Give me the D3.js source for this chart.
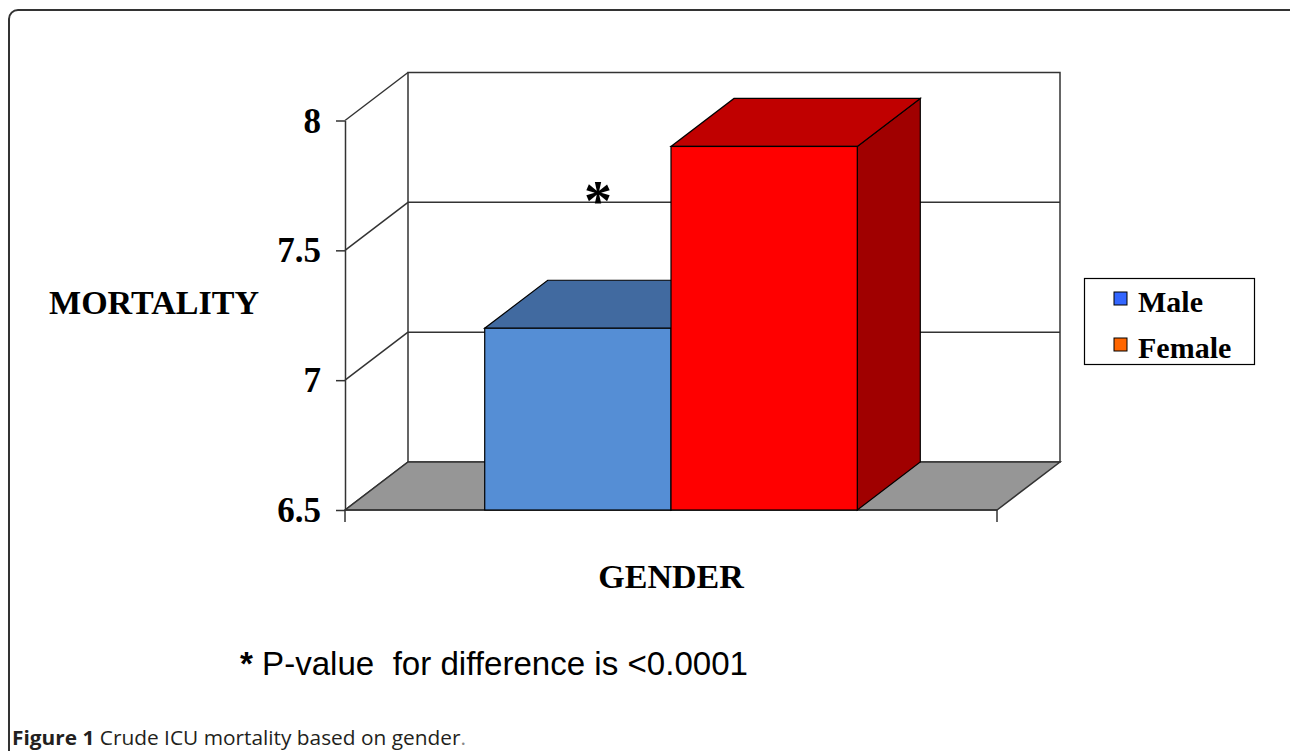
<!DOCTYPE html>
<html lang="en">
<head>
<meta charset="utf-8">
<title>Crude ICU mortality based on gender</title>
<script src="https://cdn.jsdelivr.net/npm/d3@7"></script>
<style>
  body { margin: 0; background: #fff; }
  svg { display: block; }
</style>
</head>
<body>
<script>
// data
var series = ["Male", "Female"];
var mortality = [7.2, 7.9];
var yTicks = [6.5, 7, 7.5, 8];
var yTickLabels = ["6.5", "7", "7.5", "8"];
var yTitle = "MORTALITY";
var xTitle = "GENDER";
var footnote = "P-value  for difference is <0.0001";
var captionBold = "Figure 1";
var captionText = " Crude ICU mortality based on gender";

var W = 1290, H = 751;
var svg = d3.select("body").append("svg")
  .attr("width", W)
  .attr("height", H);

// frame around figure
svg.append("rect")
  .attr("x", 9).attr("y", 10)
  .attr("width", 1300).attr("height", 780)
  .attr("rx", 9)
  .attr("fill", "none")
  .attr("stroke", "#333")
  .attr("stroke-width", 2);

// front plane + depth offset for the fake 3d
var x0 = 345, x1 = 997;
var dx = 63, dy = -48;

var y = d3.scaleLinear().domain([6.5, 8]).range([510, 120.5]);
var x = d3.scaleBand().domain(series).range([x0, x1])
  .paddingInner(0).paddingOuter(0.75);

var front = d3.scaleOrdinal().domain(series).range(["#558ED5", "#FF0000"]);
var top_ = d3.scaleOrdinal().domain(series).range(["#416AA0", "#C00000"]);
var side = d3.scaleOrdinal().domain(series).range(["#30507a", "#A00000"]);
var swatch = d3.scaleOrdinal().domain(series).range(["#3366FF", "#FF6600"]);

var lineCol = "#333";
var serif = "'Liberation Serif', 'Times New Roman', serif";

var yMin = y.domain()[0], yMax = y.domain()[1];

// back wall
var g = svg.append("g");
g.append("rect")
  .attr("x", x0 + dx).attr("y", y(yMax) + dy)
  .attr("width", x1 - x0).attr("height", y(yMin) - y(yMax))
  .attr("fill", "#fff")
  .attr("stroke", lineCol).attr("stroke-width", 1.5);

// gridlines on back wall and side wall
g.selectAll("line.grid")
  .data(yTicks.filter(function(d){ return d > yMin && d < yMax; }))
  .enter().append("line")
  .attr("class", "grid")
  .attr("x1", x0 + dx).attr("x2", x1 + dx)
  .attr("y1", function(d){ return y(d) + dy; })
  .attr("y2", function(d){ return y(d) + dy; })
  .attr("stroke", lineCol).attr("stroke-width", 1.5);

g.selectAll("line.side")
  .data(yTicks)
  .enter().append("line")
  .attr("class", "side")
  .attr("x1", x0).attr("x2", x0 + dx)
  .attr("y1", function(d){ return y(d); })
  .attr("y2", function(d){ return y(d) + dy; })
  .attr("stroke", lineCol).attr("stroke-width", 1.5);

// floor
g.append("polygon")
  .attr("points", [[x0, y(yMin)], [x1, y(yMin)], [x1 + dx, y(yMin) + dy], [x0 + dx, y(yMin) + dy]].join(" "))
  .attr("fill", "#969696")
  .attr("stroke", lineCol).attr("stroke-width", 1.5);

// y axis on the front edge
var yAxis = d3.axisLeft(y)
  .tickValues(yTicks)
  .tickFormat(function(d, i){ return yTickLabels[i]; })
  .tickSize(9)
  .tickSizeOuter(0)
  .tickPadding(15);

var ax = svg.append("g")
  .attr("transform", "translate(" + x0 + ",0)")
  .call(yAxis);
ax.selectAll("path, line").attr("stroke", lineCol).attr("stroke-width", 1.5);
ax.selectAll("text")
  .attr("font-family", serif)
  .attr("font-weight", "bold")
  .attr("font-size", 35)
  .attr("fill", "#000")
  .attr("dy", "0.33em");

// x axis: front floor edge with ticks at the category bounds
svg.append("line")
  .attr("x1", x0).attr("x2", x1)
  .attr("y1", y(yMin)).attr("y2", y(yMin))
  .attr("stroke", lineCol).attr("stroke-width", 1.5);
svg.selectAll("line.xt")
  .data(x.range())
  .enter().append("line")
  .attr("class", "xt")
  .attr("x1", function(d){ return d; }).attr("x2", function(d){ return d; })
  .attr("y1", y(yMin)).attr("y2", y(yMin) + 12)
  .attr("stroke", lineCol).attr("stroke-width", 1.5);

// bars
var bars = svg.selectAll("g.bar")
  .data(series)
  .enter().append("g")
  .attr("class", "bar");

bars.append("polygon")
  .attr("points", function(d, i){
    var a = x(d) + x.bandwidth(), t = y(mortality[i]);
    return [[a, t], [a + dx, t + dy], [a + dx, y(yMin) + dy], [a, y(yMin)]].join(" ");
  })
  .attr("fill", function(d){ return side(d); })
  .attr("stroke", "#000").attr("stroke-width", 1.2);

bars.append("polygon")
  .attr("points", function(d, i){
    var a = x(d), b = x(d) + x.bandwidth(), t = y(mortality[i]);
    return [[a, t], [b, t], [b + dx, t + dy], [a + dx, t + dy]].join(" ");
  })
  .attr("fill", function(d){ return top_(d); })
  .attr("stroke", "#000").attr("stroke-width", 1.2);

bars.append("rect")
  .attr("x", function(d){ return x(d); })
  .attr("y", function(d, i){ return y(mortality[i]); })
  .attr("width", x.bandwidth())
  .attr("height", function(d, i){ return y(yMin) - y(mortality[i]); })
  .attr("fill", function(d){ return front(d); })
  .attr("stroke", "#000").attr("stroke-width", 1.2);

// significance star
svg.append("text")
  .attr("x", 598).attr("y", 220)
  .attr("text-anchor", "middle")
  .attr("font-family", serif)
  .attr("font-weight", "bold")
  .attr("font-size", 56)
  .text("*");

// axis titles
svg.append("text")
  .attr("x", 49).attr("y", 314)
  .attr("font-family", serif)
  .attr("font-weight", "bold")
  .attr("font-size", 34)
  .attr("textLength", 210)
  .attr("lengthAdjust", "spacingAndGlyphs")
  .text(yTitle);

svg.append("text")
  .attr("x", 671).attr("y", 588)
  .attr("text-anchor", "middle")
  .attr("font-family", serif)
  .attr("font-weight", "bold")
  .attr("font-size", 34)
  .text(xTitle);

// legend
var leg = svg.append("g");
leg.append("rect")
  .attr("x", 1084.5).attr("y", 278.5)
  .attr("width", 170).attr("height", 86)
  .attr("fill", "#fff")
  .attr("stroke", "#000").attr("stroke-width", 1.2);

var li = leg.selectAll("g.li")
  .data(series)
  .enter().append("g")
  .attr("class", "li")
  .attr("transform", function(d, i){ return "translate(1114," + (292 + i * 46) + ")"; });
li.append("rect")
  .attr("width", 13).attr("height", 13)
  .attr("fill", function(d){ return swatch(d); })
  .attr("stroke", "#000").attr("stroke-width", 1);
li.append("text")
  .attr("x", 24).attr("y", 20)
  .attr("font-family", serif)
  .attr("font-weight", "bold")
  .attr("font-size", 30)
  .text(function(d){ return d; });

// footnote under the chart
var fn = svg.append("text")
  .attr("x", 240).attr("y", 675)
  .attr("xml:space", "preserve")
  .style("white-space", "pre")
  .attr("font-family", "'Liberation Sans', Arial, sans-serif")
  .attr("font-size", 33)
  .attr("textLength", 508)
  .attr("lengthAdjust", "spacingAndGlyphs");
fn.append("tspan").attr("font-weight", "bold").text("*");
fn.append("tspan").text(" " + footnote);

// caption
var cap = svg.append("text")
  .attr("x", 12).attr("y", 745)
  .attr("font-family", "'Open Sans', 'Noto Sans', sans-serif")
  .attr("font-size", 20)
  .attr("fill", "#231f20")
  .attr("textLength", 454)
  .attr("lengthAdjust", "spacingAndGlyphs");
cap.append("tspan").attr("font-weight", "bold").text(captionBold);
cap.append("tspan").text(captionText);
cap.append("tspan").attr("fill", "#888").text(".");
</script>
</body>
</html>
